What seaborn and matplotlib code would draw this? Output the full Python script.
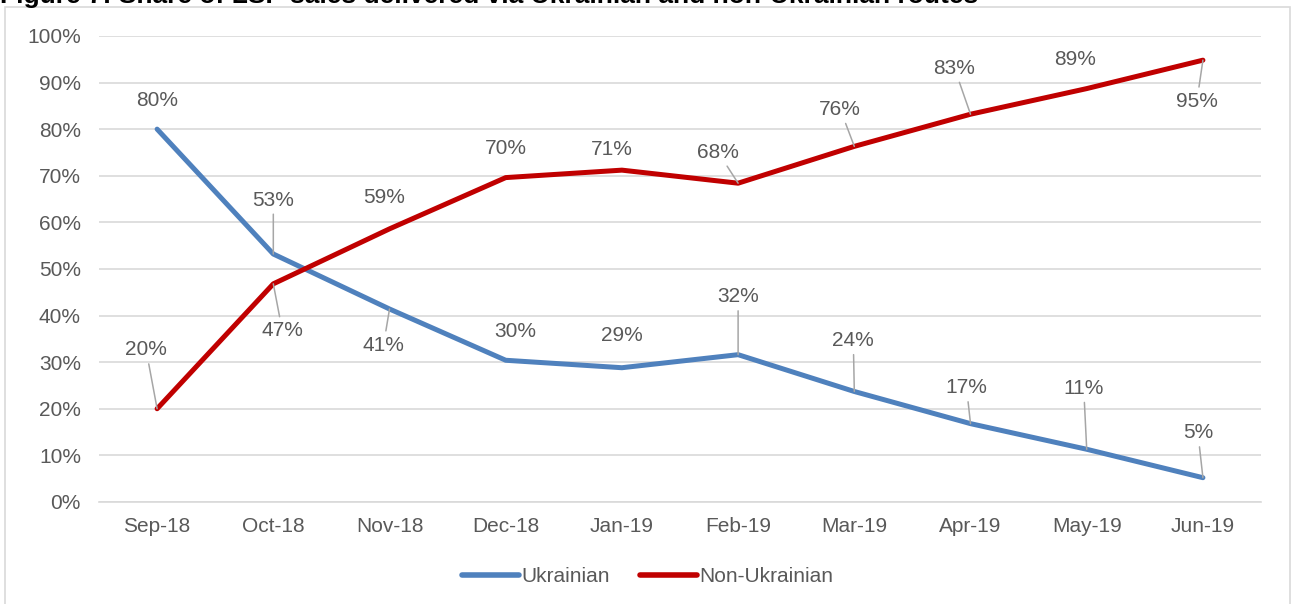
import numpy as np
import pandas as pd
import matplotlib.pyplot as plt
import seaborn as sns
from matplotlib.patches import Rectangle

# Data
months = ["Sep-18", "Oct-18", "Nov-18", "Dec-18", "Jan-19",
          "Feb-19", "Mar-19", "Apr-19", "May-19", "Jun-19"]
ukrainian = [80.0, 53.2, 41.4, 30.4, 28.8, 31.6, 23.7, 16.8, 11.3, 5.2]
non_ukrainian = [20.0, 46.8, 58.6, 69.6, 71.2, 68.4, 76.3, 83.2, 88.7, 94.8]
series_names = ["Ukrainian", "Non-Ukrainian"]

title = "Figure 7: Share of LSP sales delivered via Ukrainian and non-Ukrainian routes"

# label offsets in pixels (dx, dy), matching the original layout
ukr_offsets = [(0, 29), (0, 54), (-6, -36), (10, 29), (0, 32),
               (0, 58), (-1, 51), (-4, 36), (-3, 61), (-5, 45)]
non_offsets = [(-11, 59), (9, -47), (-5, 31), (0, 29), (-10, 21),
               (-20, 31), (-14, 37), (-16, 46), (-12, 29), (-6, -41)]

df = pd.DataFrame({
    "month": months * 2,
    "share": ukrainian + non_ukrainian,
    "route": [series_names[0]] * len(months) + [series_names[1]] * len(months),
})

colors = {"Ukrainian": "#4f81bd", "Non-Ukrainian": "#c00000"}
text_color = "#595959"
fs = 15

sns.set_theme(style="white")
plt.rcParams["font.family"] = ["Liberation Sans", "DejaVu Sans"]

fig = plt.figure(figsize=(12.96, 6.04), dpi=100)
ax = fig.add_axes([0.0764, 0.169, 0.8966, 0.7715])

sns.lineplot(data=df, x="month", y="share", hue="route", palette=colors,
             sort=False, linewidth=3.6, ax=ax, legend=False,
             solid_capstyle="round")

ax.set_xlim(-0.5, len(months) - 0.5)
ax.set_ylim(0, 100)
ax.set_yticks(np.arange(0, 101, 10))
ax.set_yticklabels([f"{v}%" for v in range(0, 101, 10)])
ax.yaxis.grid(True, color="#d9d9d9", linewidth=1.2)
ax.xaxis.grid(False)
for s in ax.spines.values():
    s.set_visible(False)
ax.spines["bottom"].set_visible(True)
ax.spines["bottom"].set_color("#d9d9d9")
ax.spines["bottom"].set_linewidth(1.2)
ax.tick_params(axis="both", colors=text_color, labelsize=fs, length=0)
ax.tick_params(axis="x", pad=11)
ax.tick_params(axis="y", pad=13)
ax.set_xlabel("")
ax.set_ylabel("")


# data labels with leader lines
def add_labels(values, offsets):
    for i, (v, off) in enumerate(zip(values, offsets)):
        dist = np.hypot(off[0], off[1])
        props = None
        if dist > 32:
            props = dict(arrowstyle="-", color="#a6a6a6", lw=1.1,
                         shrinkA=1, shrinkB=0)
        ax.annotate(f"{v:.0f}%", xy=(i, v), xytext=off,
                    textcoords="offset pixels", ha="center", va="center",
                    fontsize=fs, color=text_color, arrowprops=props)


add_labels(ukrainian, ukr_offsets)
add_labels(non_ukrainian, non_offsets)

# legend
handles = [plt.Line2D([], [], color=colors[n], lw=4, solid_capstyle="round")
           for n in series_names]
fig.legend(handles, series_names, loc="center", bbox_to_anchor=(0.5, 0.045),
           ncol=2, frameon=False, fontsize=fs, handlelength=2.7,
           handletextpad=0.15, columnspacing=1.45, labelcolor=text_color)

# chart border and title (cut at the top edge, as in the source)
fig.patches.append(Rectangle((5 / 1296, -0.1), 1285 / 1296, 1.0 + 0.1 - 7 / 604,
                             transform=fig.transFigure, fill=False,
                             edgecolor="#d9d9d9", linewidth=1.2))
fig.text(0.0, 1.0 - 3 / 604, title, ha="left", va="baseline", fontsize=19,
         fontweight="bold", color="#000000")

fig.savefig("out.png", dpi=100)
